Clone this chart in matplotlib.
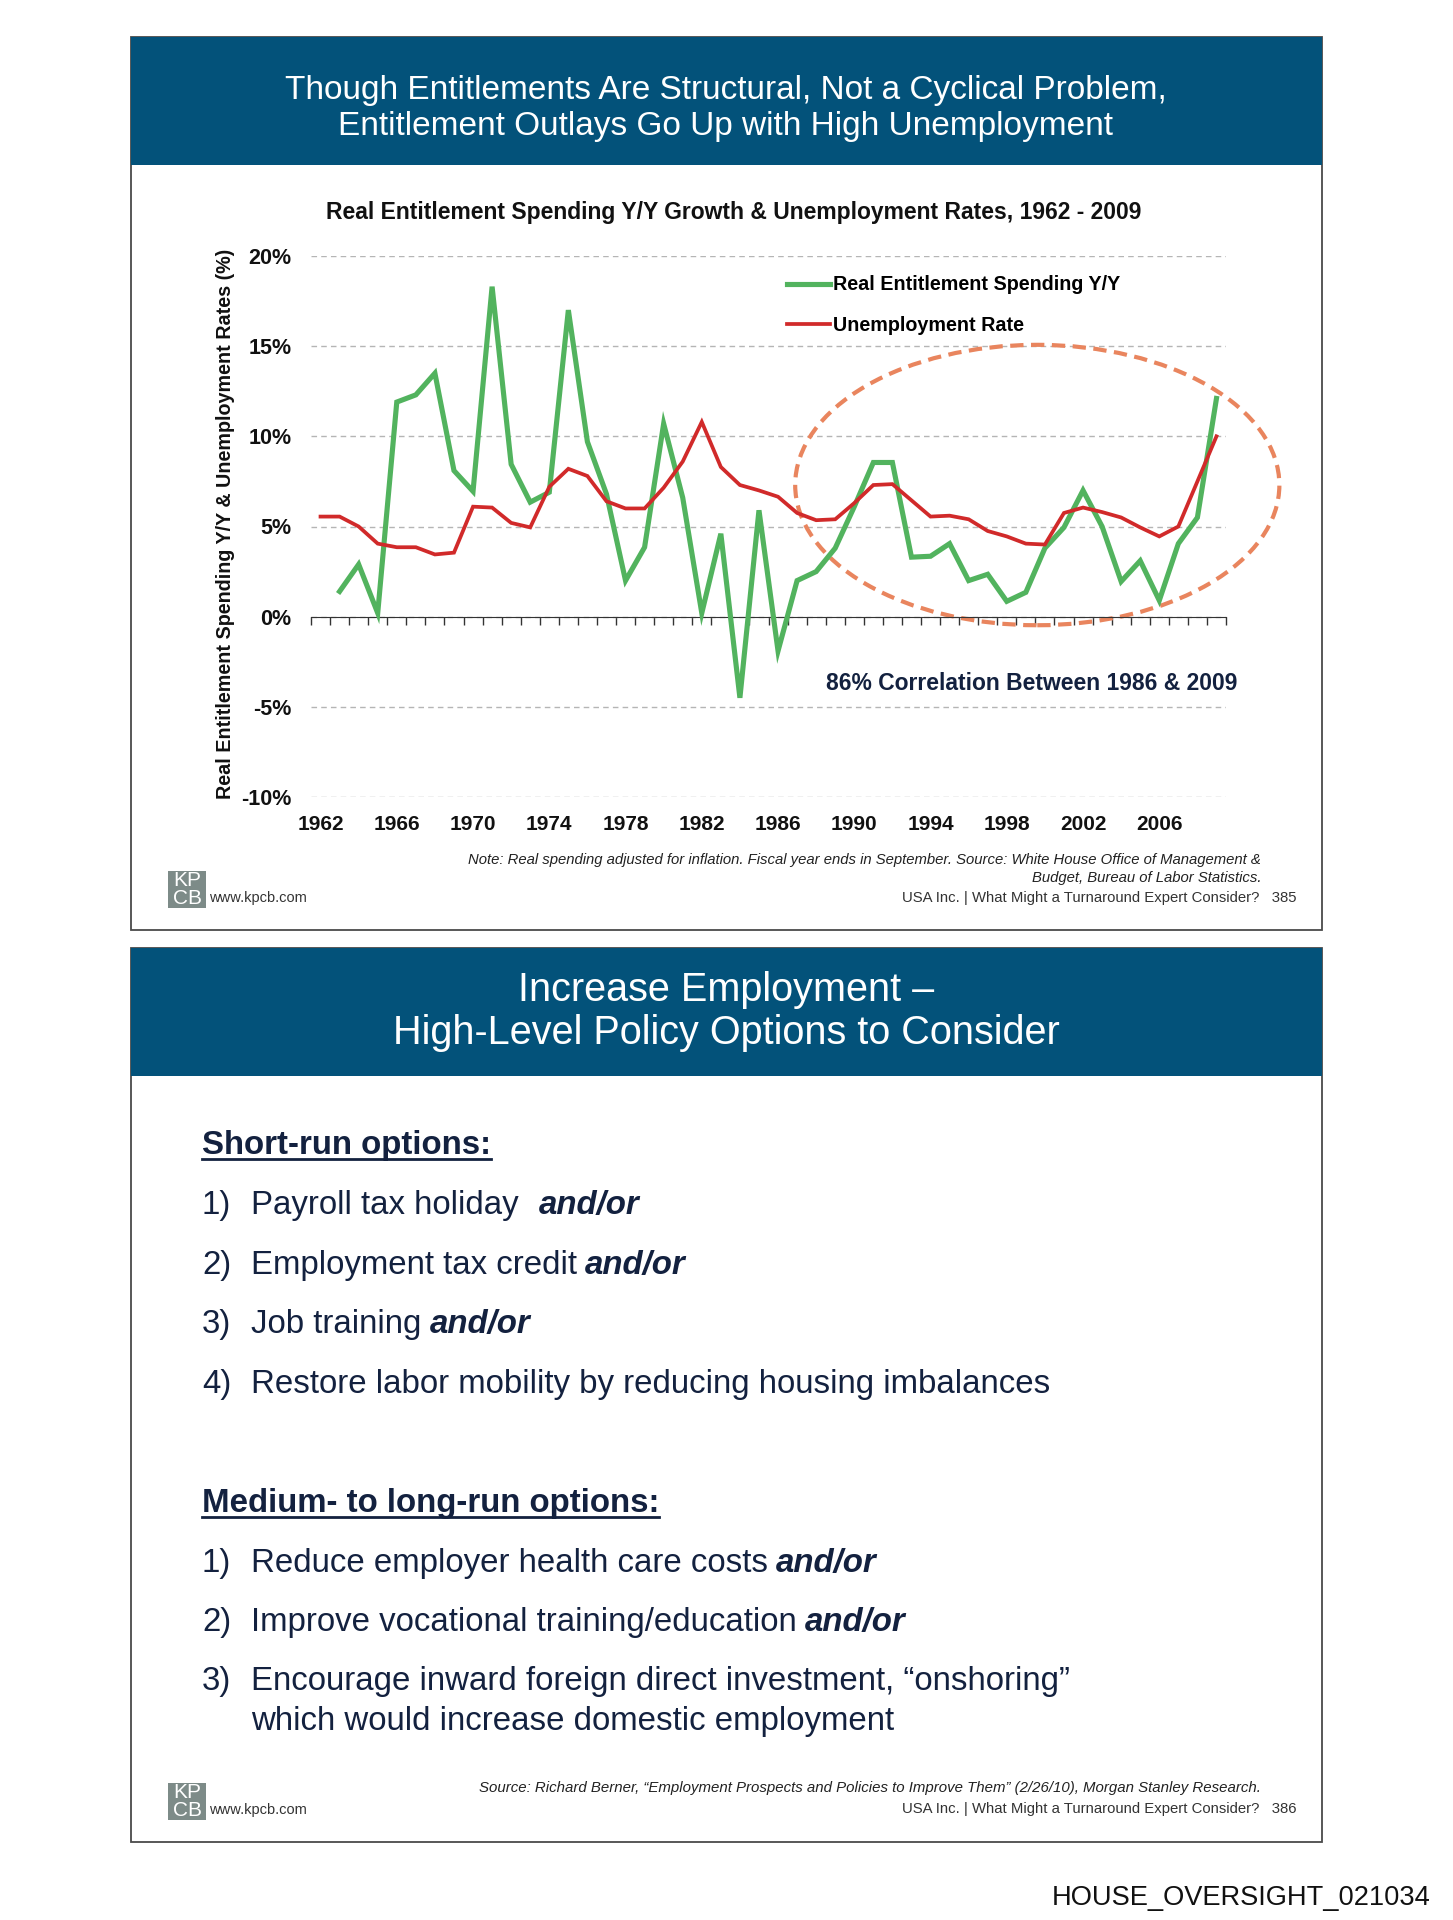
import numpy as np
import matplotlib
matplotlib.use("Agg")
import matplotlib.pyplot as plt
import matplotlib.transforms as mtransforms
from matplotlib.patches import Rectangle, Ellipse

# dados (% ao ano)
years = [1962, 1963, 1964, 1965, 1966, 1967, 1968, 1969, 1970, 1971,
         1972, 1973, 1974, 1975, 1976, 1977, 1978, 1979, 1980, 1981,
         1982, 1983, 1984, 1985, 1986, 1987, 1988, 1989, 1990, 1991,
         1992, 1993, 1994, 1995, 1996, 1997, 1998, 1999, 2000, 2001,
         2002, 2003, 2004, 2005, 2006, 2007, 2008, 2009]
spending = [np.nan, 1.4, 2.9, 0.2, 11.9, 12.3, 13.5, 8.1, 6.95, 18.3,
            8.45, 6.35, 6.9, 17.0, 9.7, 6.8, 2.0, 3.85, 10.7, 6.6,
            0.2, 4.6, -4.5, 5.9, -1.9, 2.0, 2.5, 3.8, 6.1, 8.55,
            8.55, 3.3, 3.35, 4.05, 2.0, 2.35, 0.85, 1.35, 3.8, 4.95,
            7.0, 5.0, 1.95, 3.1, 0.9, 4.05, 5.5, 12.1]
unemployment = [5.55, 5.55, 5.0, 4.05, 3.85, 3.85, 3.45, 3.55, 6.1, 6.05,
                5.2, 4.95, 7.2, 8.2, 7.8, 6.4, 6.0, 6.0, 7.15, 8.6,
                10.8, 8.3, 7.3, 7.0, 6.65, 5.75, 5.35, 5.4, 6.3, 7.3,
                7.35, 6.45, 5.55, 5.6, 5.4, 4.75, 4.45, 4.05, 4.0, 5.75,
                6.05, 5.8, 5.5, 4.95, 4.45, 5.0, 7.5, 10.0]
tick_years = [1962, 1966, 1970, 1974, 1978, 1982, 1986, 1990, 1994, 1998, 2002, 2006]
ytick_vals = [-10, -5, 0, 5, 10, 15, 20]
ytick_labels = ["-10%", "-5%", "0%", "5%", "10%", "15%", "20%"]

short_run = ["Payroll tax holiday", "Employment tax credit", "Job training",
             "Restore labor mobility by reducing housing imbalances"]
short_andor = [True, True, True, False]
medium_run = ["Reduce employer health care costs", "Improve vocational training/education",
              "Encourage inward foreign direct investment, \u201conshoring\u201d"]
medium_andor = [True, True, False]

# cores
azul = "#03527A"
navy = "#13213F"
verde = "#52B35E"
vermelho = "#D12A2A"
laranja = "#E9855E"
cinza_logo = "#7D8B88"

W, H = 1453, 1920
plt.rcParams["font.family"] = ["Liberation Sans", "DejaVu Sans"]

fig = plt.figure(figsize=(W / 100, H / 100), dpi=100)
fig.patch.set_facecolor("white")

page = fig.add_axes([0, 0, 1, 1])
page.set_xlim(0, W)
page.set_ylim(H, 0)
page.axis("off")


def px(x0, y0, x1, y1):
    return [x0 / W, 1 - y1 / H, (x1 - x0) / W, (y1 - y0) / H]


# molduras dos dois slides
for top, bot in [(37, 930), (948, 1842)]:
    page.add_patch(Rectangle((131, top), 1191, bot - top, fill=False, ec="#4a4a4a", lw=1.3))
    page.add_patch(Rectangle((131, top), 1191, 128, fc=azul, ec="none"))
    # logo KPCB
    page.add_patch(Rectangle((168, bot - 59), 38, 37, fc=cinza_logo, ec="none"))
    page.text(187, bot - 49, "KP", color="white", fontsize=15, ha="center", va="center")
    page.text(187, bot - 31, "CB", color="white", fontsize=15, ha="center", va="center")
    page.text(209, bot - 32, "www.kpcb.com", color="#333333", fontsize=10.5, va="center")

page.text(726, 90, "Though Entitlements Are Structural, Not a Cyclical Problem,",
          color="white", fontsize=24, ha="center", va="center")
page.text(726, 126, "Entitlement Outlays Go Up with High Unemployment",
          color="white", fontsize=24, ha="center", va="center")

page.text(734, 213, "Real Entitlement Spending Y/Y Growth & Unemployment Rates, 1962 - 2009",
          fontsize=16.5, fontweight="bold", ha="center", va="center", color="#111111")
page.text(1032, 683, "86% Correlation Between 1986 & 2009", fontsize=16.5,
          fontweight="bold", ha="center", va="center", color=navy)

page.text(1261, 860, "Note: Real spending adjusted for inflation. Fiscal year ends in September. "
          "Source: White House Office of Management &", fontsize=10.7, style="italic",
          ha="right", va="center", color="#222222")
page.text(1261, 878, "Budget, Bureau of Labor Statistics.", fontsize=10.7, style="italic",
          ha="right", va="center", color="#222222")
page.text(1296, 898, "USA Inc. | What Might a Turnaround Expert Consider?   385",
          fontsize=10.7, ha="right", va="center", color="#333333")

# gráfico
ax = fig.add_axes(px(311, 256, 1226, 797))
ax.patch.set_alpha(0)
x = np.arange(len(years))
ax.plot(x, spending, color=verde, lw=3.7, solid_joinstyle="miter",
        label="Real Entitlement Spending Y/Y", zorder=3)
ax.plot(x, unemployment, color=vermelho, lw=2.7, solid_joinstyle="miter",
        label="Unemployment Rate", zorder=4)
ax.set_xlim(-0.5, len(years) - 0.5)
ax.set_ylim(-10, 20)

for s in ["top", "right", "left"]:
    ax.spines[s].set_visible(False)
ax.spines["bottom"].set_position(("data", 0))
ax.spines["bottom"].set_color("#333333")
ax.set_xticks(np.arange(len(years) + 1) - 0.5)
ax.set_xticklabels([])
ax.tick_params(axis="x", direction="out", length=6, width=1, color="#333333")

trans = mtransforms.blended_transform_factory(ax.transData, ax.transAxes)
for yr in tick_years:
    ax.text(years.index(yr), -0.05, str(yr), transform=trans, ha="center", va="center",
            fontsize=15, fontweight="bold", color="#111111")

ax.set_yticks(ytick_vals)
ax.set_yticklabels(ytick_labels, fontsize=15.5, fontweight="bold", color="#111111")
ax.tick_params(axis="y", length=0, pad=14)
ax.yaxis.grid(True, color="#B5B5B5", lw=1, ls=(0, (4, 3)))
ax.set_axisbelow(True)

ax.set_ylabel("Real Entitlement Spending Y/Y & Unemployment Rates (%)", fontsize=14.2,
              fontweight="bold", color="#111111")
ax.yaxis.set_label_coords(-0.083, 0.505)

ax.legend(loc="upper left", bbox_to_anchor=(0.52, 0.964), frameon=False,
          handlelength=2.2, handletextpad=0.12, borderpad=0, borderaxespad=0,
          labelspacing=1.1, prop={"weight": "bold", "size": 14.2})

ax.add_patch(Ellipse((37.6, 7.3), 25.4, 15.55, fill=False, ec=laranja, lw=3,
                     ls=(0, (3.2, 1.8)), clip_on=False, zorder=2))

# slide de baixo
page.text(726, 990, "Increase Employment \u2013", color="white", fontsize=28.5,
          ha="center", va="center")
page.text(726, 1033, "High-Level Policy Options to Consider", color="white", fontsize=28.5,
          ha="center", va="center")

renderer = fig.canvas.get_renderer()


def heading(y, txt):
    t = page.text(202, y, txt, fontsize=23.8, fontweight="bold", color=navy,
                  va="baseline")
    bb = t.get_window_extent(renderer=renderer)
    page.plot([bb.x0, bb.x1], [y + 5, y + 5], color=navy, lw=2)


def item(y, n, txt, andor, gap=8):
    page.text(202, y, f"{n})", fontsize=23.8, color=navy, va="baseline")
    t = page.text(251, y, txt, fontsize=23.8, color=navy, va="baseline")
    if andor:
        bb = t.get_window_extent(renderer=renderer)
        page.text(bb.x1 + gap, y, "and/or", fontsize=23.8, color=navy, va="baseline",
                  fontweight="bold", style="italic")


heading(1154, "Short-run options:")
for i, (txt, a) in enumerate(zip(short_run, short_andor)):
    item(1214 + i * 59.7, i + 1, txt, a, gap=20 if i == 0 else 8)

heading(1512, "Medium- to long-run options:")
for i, (txt, a) in enumerate(zip(medium_run, medium_andor)):
    item(1572 + i * 59, i + 1, txt, a)
page.text(251, 1730, "which would increase domestic employment", fontsize=23.8, color=navy,
          va="baseline")

page.text(1261, 1788, "Source: Richard Berner, \u201cEmployment Prospects and Policies to Improve "
          "Them\u201d (2/26/10), Morgan Stanley Research.", fontsize=10.8, style="italic",
          ha="right", va="center", color="#222222")
page.text(1296, 1809, "USA Inc. | What Might a Turnaround Expert Consider?   386",
          fontsize=10.7, ha="right", va="center", color="#333333")

page.text(1430, 1898, "HOUSE_OVERSIGHT_021034", fontsize=19.6, ha="right", va="center",
          color="#111111")

fig.savefig("out.png", dpi=100, facecolor="white")
